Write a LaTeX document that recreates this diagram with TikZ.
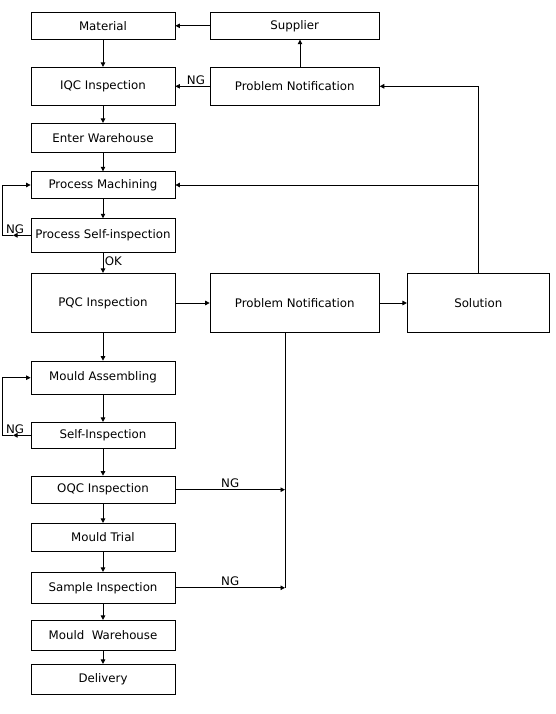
\documentclass[tikz,border=0pt]{standalone}
\usepackage{fontspec}
\setmainfont{DejaVu Sans}
\usetikzlibrary{arrows.meta}

\begin{document}
\begin{tikzpicture}[x=1pt,y=-1pt,
        box/.style={draw,line width=0.8pt,minimum width=144pt,inner sep=0pt,font=\fontsize{11.8}{14}\selectfont},
        wide/.style={box,minimum width=169.3pt},
        arr/.style={line width=0.8pt,-{Triangle[length=4.5pt,width=4.5pt]}},
        lbl/.style={font=\fontsize{11.8}{14}\selectfont,inner sep=1.5pt}]
    \useasboundingbox (0,0) rectangle (556,714);
    \node[box,minimum height=27pt] (mat) at (103,25.8) {Material};
    \node[wide,minimum height=27pt] (sup) at (294.7,25.8) {Supplier};
    \node[box,minimum height=38pt] (iqc) at (103,86.3) {IQC Inspection};
    \node[wide,minimum height=38pt] (pna) at (294.7,86.3) {Problem Notification};
    \node[box,minimum height=29pt] (ew) at (103,137.8) {Enter Warehouse};
    \node[box,minimum height=26.6pt] (pm) at (103,185) {Process Machining};
    \node[box,minimum height=33.3pt] (psi) at (103,235.3) {Process Self-inspection};
    \node[box,minimum height=59.4pt] (pqc) at (103,303) {PQC Inspection};
    \node[wide,minimum height=59.4pt] (pnb) at (294.7,303) {Problem Notification};
    \node[box,minimum width=142pt,minimum height=59.4pt] (sol) at (478.3,303) {Solution};
    \node[box,minimum height=33.3pt] (ma) at (103,377.7) {Mould Assembling};
    \node[box,minimum height=26pt] (si) at (103,435.3) {Self-Inspection};
    \node[box,minimum height=27.3pt] (oqc) at (103,489.7) {OQC Inspection};
    \node[box,minimum height=27.7pt] (mt) at (103,537.2) {Mould Trial};
    \node[box,minimum height=31pt] (sai) at (103,587.8) {Sample Inspection};
    \node[box,minimum height=30pt] (mw) at (103,635.3) {Mould~~Warehouse};
    \node[box,minimum height=30pt] (del) at (103,679.3) {Delivery};

    \coordinate (bus) at (285,332.7);
    \coordinate (up) at (300,67.3);
    \coordinate (ngA) at (13,235.3);
    \coordinate (ngB) at (2,235.3);
    \coordinate (ngC) at (13,435.3);
    \coordinate (ngD) at (2,435.3);

    \foreach \a/\b in {mat/iqc,iqc/ew,ew/pm,pm/psi,pqc/ma,ma/si,si/oqc,oqc/mt,mt/sai,sai/mw,mw/del}
        \draw[arr] (\a) -- (\b);
    \draw[arr] (psi) -- node[lbl,right,pos=0.45] {OK} (pqc);

    \draw[arr] (sup) -- (mat);
    \draw[arr] (pna) -- node[lbl,above,pos=0.4] {NG} (iqc);
    \draw[arr] (up) -- (up |- sup.south);
    \draw[arr] (pqc) -- (pnb);
    \draw[arr] (pnb) -- (sol);
    \draw[arr] (sol.north) |- (pna.east);
    \draw[arr] (sol.north |- pm.east) -- (pm.east);

    \draw[line width=0.8pt] (bus) -- (bus |- sai.east);
    \draw[arr] (oqc.east) -- node[lbl,above] {NG} (bus |- oqc.east);
    \draw[arr] (sai.east) -- node[lbl,above] {NG} (bus |- sai.east);

    \draw[arr] (psi.west) -- (ngA) node[lbl,above,xshift=2pt] {NG};
    \draw[arr] (ngA) -- (ngB) |- (pm.west);
    \draw[arr] (si.west) -- (ngC) node[lbl,above,xshift=2pt] {NG};
    \draw[arr] (ngC) -- (ngD) |- (ma.west);
\end{tikzpicture}
\end{document}
